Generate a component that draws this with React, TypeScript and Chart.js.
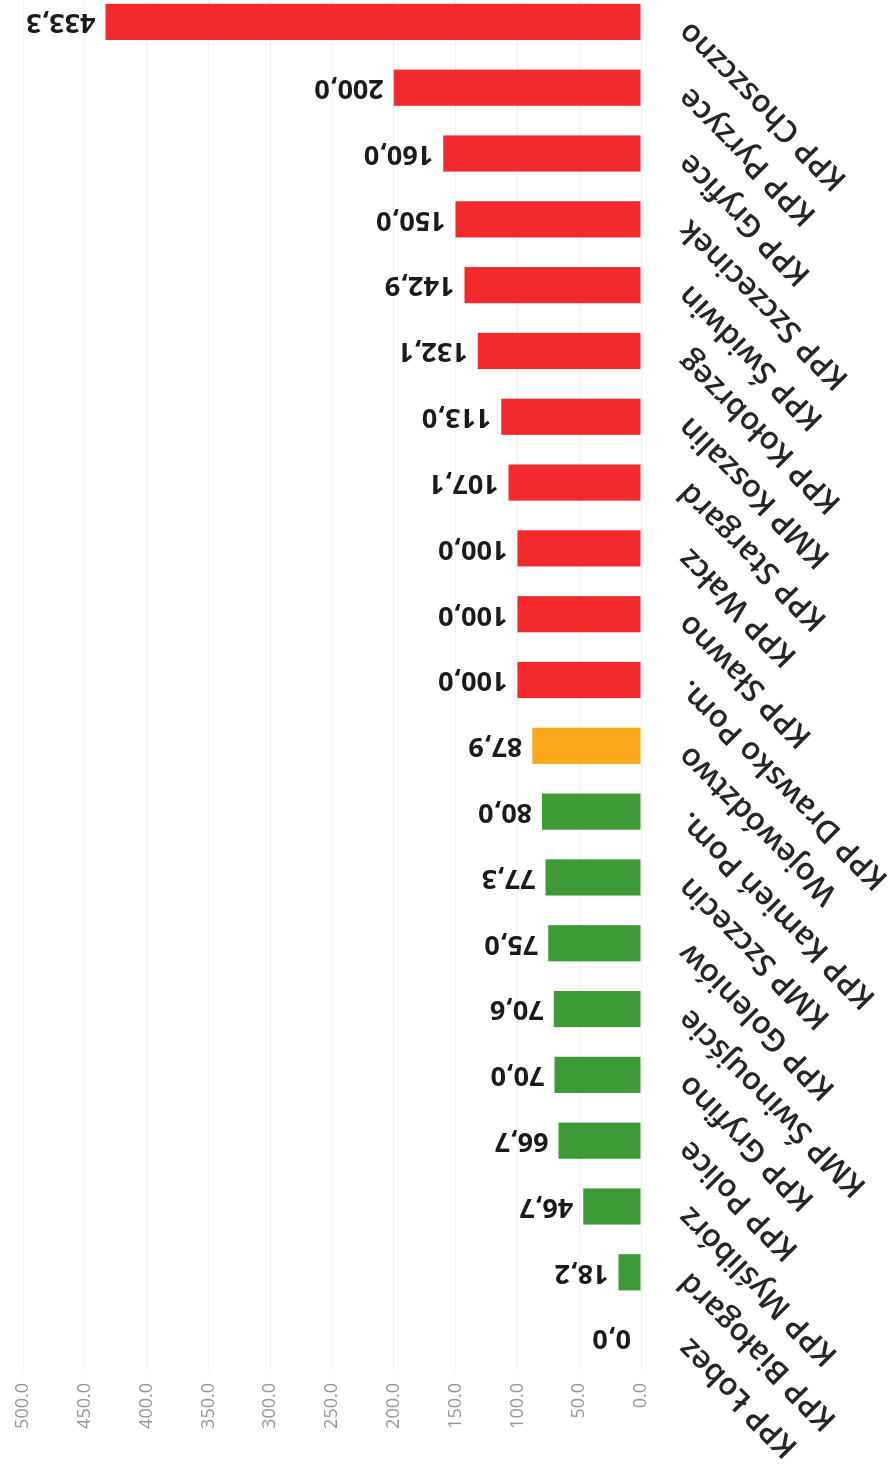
import React, { useEffect, useRef } from 'react';
import { Chart, registerables } from 'chart.js';

Chart.register(...registerables);

// Units, ordered as on the category axis (lowest value first)
const categories = [
  'KPP Łobez',
  'KPP Białogard',
  'KPP Myślibórz',
  'KPP Police',
  'KPP Gryfino',
  'KMP Świnoujście',
  'KPP Goleniów',
  'KMP Szczecin',
  'KPP Kamień Pom.',
  'Województwo',
  'KPP Drawsko Pom.',
  'KPP Sławno',
  'KPP Wałcz',
  'KPP Stargard',
  'KMP Koszalin',
  'KPP Kołobrzeg',
  'KPP Świdwin',
  'KPP Szczecinek',
  'KPP Gryfice',
  'KPP Pyrzyce',
  'KPP Choszczno',
];

const values = [
  0.0, 18.2, 46.7, 66.7, 70.0, 70.6, 75.0, 77.3, 80.0, 87.9, 100.0, 100.0, 100.0, 107.1,
  113.0, 132.1, 142.9, 150.0, 160.0, 200.0, 433.3,
];

// g = below average, a = voivodeship average, r = above
const status = [
  'g', 'g', 'g', 'g', 'g', 'g', 'g', 'g', 'g', 'a', 'r', 'r', 'r', 'r', 'r', 'r', 'r', 'r', 'r', 'r', 'r',
];

const valueAxisMin = 0;
const valueAxisMax = 500;
const valueAxisStep = 50;

const palette: Record<string, string> = { g: '#3c9a37', a: '#fba71b', r: '#f3292d' };

const CANVAS_W = 1478;
const CANVAS_H = 894;

const valueLabelPlugin = {
  id: 'valueLabels',
  afterDatasetsDraw(chart: any) {
    const ctx = chart.ctx;
    const meta = chart.getDatasetMeta(0);
    ctx.save();
    ctx.font = 'bold 27px "Open Sans"';
    ctx.fillStyle = '#1b1b1b';
    ctx.textAlign = 'left';
    ctx.textBaseline = 'middle';
    meta.data.forEach((bar: any, i: number) => {
      ctx.save();
      ctx.translate(bar.x, bar.y - 10);
      ctx.rotate(-Math.PI / 2);
      ctx.fillText(values[i].toFixed(1).replace('.', ','), 0, 0);
      ctx.restore();
    });
    ctx.restore();
  },
};

export default function App() {
  const ref = useRef<HTMLCanvasElement | null>(null);

  useEffect(() => {
    if (!ref.current) return;
    const chart = new Chart(ref.current, {
      type: 'bar',
      data: {
        labels: categories,
        datasets: [
          {
            data: values,
            backgroundColor: status.map((s) => palette[s]),
            borderWidth: 0,
            barPercentage: 0.55,
            categoryPercentage: 1,
          },
        ],
      },
      options: {
        responsive: false,
        animation: false,
        devicePixelRatio: 1,
        layout: { padding: { top: 23, right: 0, left: 0, bottom: 0 } },
        plugins: { legend: { display: false }, tooltip: { enabled: false } },
        scales: {
          x: {
            grid: { display: false },
            border: { display: false },
            ticks: {
              autoSkip: false,
              minRotation: 45,
              maxRotation: 45,
              padding: 22,
              labelOffset: -5,
              color: '#262626',
              font: { family: '"Open Sans"', size: 31, weight: '600' },
            },
            afterFit: (scale: any) => {
              scale.height = 253;
              scale.paddingLeft = 0;
              scale.paddingRight = 0;
            },
          },
          y: {
            min: valueAxisMin,
            max: valueAxisMax,
            grid: { color: '#f0f0f0', drawTicks: false },
            border: { display: false },
            ticks: {
              stepSize: valueAxisStep,
              padding: 12,
              color: '#959595',
              font: { family: '"Open Sans"', size: 18 },
              callback: (v: any) => Number(v).toFixed(1),
            },
            afterFit: (scale: any) => {
              scale.width = 96;
              scale.paddingTop = 0;
              scale.paddingBottom = 0;
            },
          },
        },
      },
      plugins: [valueLabelPlugin],
    });
    return () => chart.destroy();
  }, []);

  return (
    <div
      style={{
        position: 'fixed',
        left: 0,
        top: 0,
        width: 894,
        height: 1467,
        overflow: 'hidden',
        background: '#ffffff',
      }}
    >
      <canvas
        ref={ref}
        width={CANVAS_W}
        height={CANVAS_H}
        style={{
          position: 'absolute',
          left: 0,
          top: 0,
          width: CANVAS_W,
          height: CANVAS_H,
          transformOrigin: '0 0',
          transform: 'translate(0px, 1467px) rotate(-90deg)',
        }}
      />
    </div>
  );
}
